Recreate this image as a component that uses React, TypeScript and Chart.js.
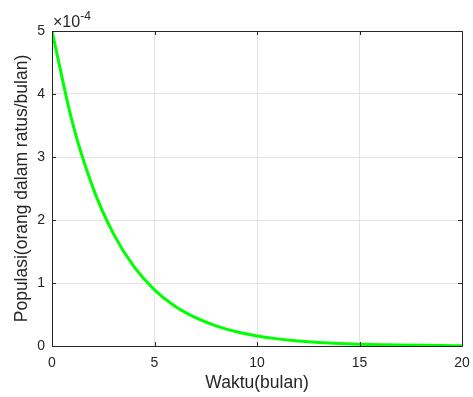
import React, { useEffect, useRef } from "react";
import { Chart, registerables } from "chart.js";

Chart.register(...registerables);

// time in months
const months = [0, 1, 2, 3, 4, 5, 6, 7, 8, 9, 10, 11, 12, 13, 14, 15, 16, 17, 18, 19, 20];
// population, in units of 1e-4
const population = [5.0, 3.54, 2.51, 1.78, 1.26, 0.89, 0.63, 0.45, 0.32, 0.225, 0.16, 0.113, 0.08, 0.057, 0.04, 0.028, 0.02, 0.014, 0.01, 0.007, 0.005];
const xTicks = [0, 5, 10, 15, 20];
const yTicks = [0, 1, 2, 3, 4, 5];
const exponentLabel = "-4";
const xTitle = "Waktu(bulan)";
const yTitle = "Populasi(orang dalam ratus/bulan)";

const FONT = "'Liberation Sans', Arial, Helvetica, sans-serif";
const AXIS = "#262626";

export default function App() {
  const ref = useRef<HTMLCanvasElement | null>(null);
  useEffect(() => {
    document.body.style.margin = "0";
    const canvas = ref.current;
    if (!canvas) return;

    const framePlugin = {
      id: "frame",
      afterDraw(chart: any) {
        const { ctx, chartArea: a, scales } = chart;
        const xs = scales.x;
        const ys = scales.y;
        ctx.save();
        ctx.strokeStyle = AXIS;
        ctx.lineWidth = 1;
        ctx.beginPath();
        ctx.rect(Math.round(a.left) + 0.5, Math.round(a.top) + 0.5, Math.round(a.right - a.left), Math.round(a.bottom - a.top));
        ctx.stroke();
        const tl = 4;
        ctx.beginPath();
        xTicks.forEach((v) => {
          const px = Math.round(xs.getPixelForValue(v)) + 0.5;
          ctx.moveTo(px, a.bottom);
          ctx.lineTo(px, a.bottom - tl);
          ctx.moveTo(px, a.top);
          ctx.lineTo(px, a.top + tl);
        });
        yTicks.forEach((v) => {
          const py = Math.round(ys.getPixelForValue(v)) + 0.5;
          ctx.moveTo(a.left, py);
          ctx.lineTo(a.left + tl, py);
          ctx.moveTo(a.right, py);
          ctx.lineTo(a.right - tl, py);
        });
        ctx.stroke();
        // exponent label
        ctx.fillStyle = AXIS;
        ctx.textBaseline = "alphabetic";
        ctx.textAlign = "left";
        ctx.font = `16px ${FONT}`;
        const base = "\u00d710";
        const x0 = a.left + 1;
        const y0 = a.top - 4;
        ctx.fillText(base, x0, y0);
        const w = ctx.measureText(base).width;
        ctx.font = `12px ${FONT}`;
        ctx.fillText(exponentLabel, x0 + w, y0 - 7);
        ctx.restore();
      },
    };

    const chart = new Chart(canvas, {
      type: "line",
      data: {
        datasets: [
          {
            data: months.map((m, i) => ({ x: m, y: population[i] })),
            borderColor: "#00ff00",
            borderWidth: 3,
            pointRadius: 0,
            cubicInterpolationMode: "monotone",
            fill: false,
          },
        ],
      },
      options: {
        animation: false,
        responsive: false,
        layout: { padding: { left: 0, right: 11, top: 31, bottom: 0 } },
        plugins: { legend: { display: false }, tooltip: { enabled: false } },
        scales: {
          x: {
            type: "linear",
            min: 0,
            max: 20,
            afterBuildTicks: (s: any) => {
              s.ticks = xTicks.map((v) => ({ value: v }));
            },
            afterFit: (s: any) => {
              s.height = 51;
              s.paddingLeft = 0;
              s.paddingRight = 0;
            },
            grid: { color: "#e3e3e3", drawTicks: false },
            border: { display: false },
            ticks: { color: AXIS, font: { family: FONT, size: 14 }, padding: 9, maxRotation: 0 },
            title: { display: true, text: xTitle, color: AXIS, font: { family: FONT, size: 17.5 }, padding: { top: 0, bottom: 3.5 } },
          },
          y: {
            type: "linear",
            min: 0,
            max: 5,
            afterBuildTicks: (s: any) => {
              s.ticks = yTicks.map((v) => ({ value: v }));
            },
            afterFit: (s: any) => {
              s.width = 52;
              s.paddingTop = 0;
              s.paddingBottom = 0;
            },
            grid: { color: "#e3e3e3", drawTicks: false },
            border: { display: false },
            ticks: { color: AXIS, font: { family: FONT, size: 14 }, padding: 7 },
            title: { display: true, text: yTitle, color: AXIS, font: { family: FONT, size: 17.5 }, padding: { top: 11.5, bottom: 0 } },
          },
        },
      },
      plugins: [framePlugin],
    } as any);
    return () => chart.destroy();
  }, []);
  return (
    <div style={{ position: "absolute", left: 0, top: 0, width: 473, height: 397, background: "#fff" }}>
      <canvas ref={ref} width={473} height={397} style={{ width: 473, height: 397 }} />
    </div>
  );
}
